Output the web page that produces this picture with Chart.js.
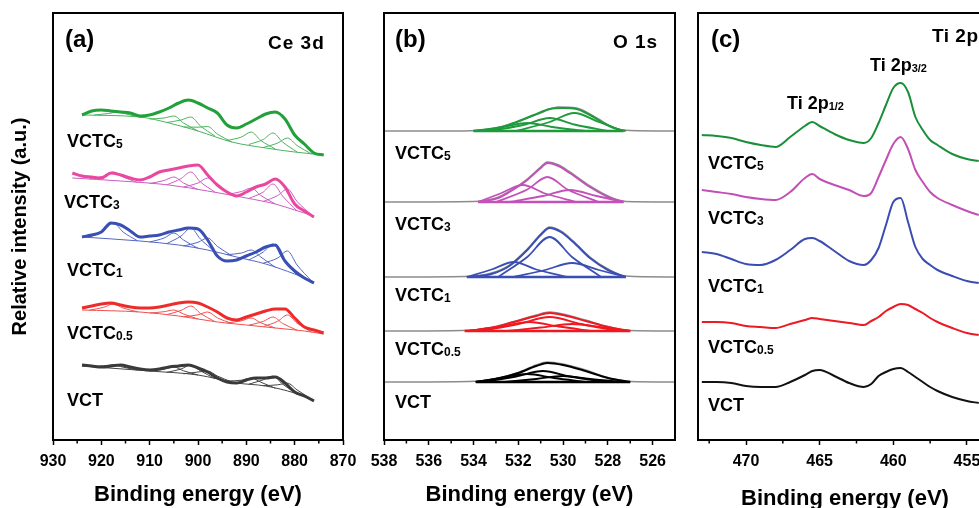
<!DOCTYPE html>
<html><head><meta charset="utf-8">
<script src="https://cdn.jsdelivr.net/npm/chart.js@4.4.1/dist/chart.umd.min.js"></script>
<style>
html,body{margin:0;padding:0;background:#fff;width:979px;height:508px;overflow:hidden;position:relative;font-family:"Liberation Sans",Arial,sans-serif;}
canvas{position:absolute;top:0;}
.lbl{position:absolute;font-weight:bold;font-size:18px;line-height:1;transform:translateY(-50%);white-space:nowrap;color:#000;}
.lbl sub{font-size:12px;vertical-align:-1px;line-height:0;}
</style></head><body>
<canvas id="ca" width="370" height="508" style="left:0px"></canvas>
<canvas id="cb" width="350" height="508" style="left:350px"></canvas>
<canvas id="cc" width="400" height="520" style="left:660px"></canvas>
<div id="labels"></div>
<script>
// ---------- tick labels ----------
const ceTicks = [930, 920, 910, 900, 890, 880, 870];
const ceMinor = [925, 915, 905, 895, 885, 875];
const oTicks = [538, 536, 534, 532, 530, 528, 526];
const oMinor = [537, 535, 533, 531, 529, 527];
const tiTicks = [470, 465, 460, 455];
const tiMinor = [472.5, 467.5, 462.5, 457.5];

const sampleBase = ['VCTC', 'VCTC', 'VCTC', 'VCTC', 'VCT'];
const sampleSub = ['5', '3', '1', '0.5', ''];

// ---------- (a) Ce 3d : binding energy grid and stacked raw spectra (offset a.u.) ----------
const ceEnergy = [926,924,922,920,918,916,914,912,910,908,906,904,902,900,898,896,894,892,890,888,886,884,882,880,878,876,874];
const ceVCTC5 = [null,325,329,330,329,328,327,324,325,328,332,337,340,337,332,327,315,312,316,321,326,328,321,305,296,287,285];
const ceVCTC3 = [267,264,263,262,267,265,262,260,263,268,270,272,274,275,265,255,248,244,248,253,256,261,253,236,229,223,null];
const ceVCTC1 = [null,203,205,208,217,215,209,203,204,205,208,210,212,211,200,184,179,180,184,188,193,195,179,169,162,157,null];
const ceVCTC05 = [null,132,134,136,137,135,133,132,132,133,135,137,138,137,133,128,122,120,123,126,129,131,131,122,113,110,107];
const ceVCT = [null,75,74,73,74,75,73,71,70,71,73,74,75,72,68,62,58,57,60,62,62,63,57,48,44,39,null];

// backgrounds [energy, intensity]
const ceVCTC5Base = [[924,325],[912,323],[906,317],[900,309],[893,298],[886,292],[880,288],[874,285]];
const ceVCTC3Base = [[926,262],[916,259],[906,255],[898,249],[890,242],[884,236],[880,230],[876,224]];
const ceVCTC1Base = [[924,203],[912,199],[904,195],[898,190],[892,183],[886,176],[880,166],[876,158]];
const ceVCTC05Base = [[924,130],[912,128],[904,124],[896,118],[890,115],[884,112],[878,109],[874,106]];
const ceVCTBase = [[924,74],[910,69],[900,65],[892,57],[886,54],[880,47],[876,40]];

// fitted components [energy, intensity]
const ceVCTC5Peaks = [
 [[921.5,325],[918.5,326.5],[916.5,328],[914.5,325.5],[911.5,322.5]],
 [[910,321],[907,322],[905,324],[903,317],[900,309]],
 [[906.5,317.5],[903.5,320],[901.5,323],[899.5,314],[896.5,304]],
 [[903,313],[900,312.8],[898,313.5],[896,306],[893,298]],
 [[894,299.5],[891,303],[889,308],[887,299.5],[884,291]],
 [[889.5,295.5],[886.5,300.5],[884.5,307],[882.5,298],[879.5,288]],
 [[886.5,292.5],[883.5,297],[881.5,302],[879.5,294.5],[876.5,286]]
];
const ceVCTC3Peaks = [
 [[922.5,261],[919.5,264],[917.5,268],[915.5,263],[912.5,257.5]],
 [[910,256.5],[907,259.5],[905,263],[903,257],[900,250.5]],
 [[906.5,255],[903.5,261.5],[901.5,268],[899.5,258],[896.5,248]],
 [[903,253],[900,257],[898,262],[896,254],[893,244.5]],
 [[894,245.5],[891,248.5],[889,252],[887,244.5],[884,236]],
 [[889.5,241.5],[886.5,248],[884.5,256],[882.5,244],[879.5,229]],
 [[886.5,238.5],[883.5,244.5],[881.5,251],[879.5,238.5],[876.5,225]]
];
const ceVCTC1Peaks = [
 [[922.5,202.7],[919.5,209.5],[917.5,217],[915.5,208],[912.5,199.2]],
 [[910,198],[907,202],[905,207],[903,200],[900,191.7]],
 [[906.5,196.3],[903.5,204],[901.5,212],[899.5,201],[896.5,188.3]],
 [[903,194],[900,197.7],[898,202],[896,193.7],[893,184.2]],
 [[894,185.3],[891,187],[889,190],[887,183],[884,172.7]],
 [[889.5,180],[886.5,188],[884.5,196],[882.5,181],[879.5,165]],
 [[886.5,176.8],[883.5,182],[881.5,189],[879.5,175],[876.5,159]]
];
const ceVCTC05Peaks = [
 [[922.5,129.8],[919.5,132.7],[917.5,136],[915.5,132],[912.5,128.1]],
 [[910,127],[907,128.3],[905,130],[903,126],[900,121]],
 [[906.5,125.3],[903.5,129.6],[901.5,134],[899.5,126.6],[896.5,118.4]],
 [[903,123.2],[900,125.2],[898,128],[896,122.2],[893,116.5]],
 [[894,117],[891,119.2],[889,122],[887,117.2],[884,112]],
 [[889.5,114.8],[886.5,118.6],[884.5,123],[882.5,116.6],[879.5,109.8]],
 [[886.5,113.3],[883.5,118.8],[881.5,125],[879.5,116.8],[876.5,108]]
];
const ceVCTPeaks = [
 [[922.5,73.5],[919.5,74.2],[917.5,75.2],[915.5,72.8],[912.5,69.9]],
 [[910,69],[907,70.8],[905,73],[903,69.2],[900,65]],
 [[906.5,67.6],[903.5,71],[901.5,75],[899.5,69.2],[896.5,61.5]],
 [[903,66.2],[900,68],[898,69],[896,64],[893,58]],
 [[894,59],[891,59.8],[889,62],[887,57.8],[884,51.7]],
 [[889.5,55.8],[886.5,60.2],[884.5,64],[882.5,55.9],[879.5,46.1]],
 [[886.5,54.3],[883.5,55.2],[881.5,56.8],[879.5,50.1],[876.5,40.7]]
];

// ---------- (b) O 1s ----------
const oVCTC5Raw = [[538,309],[534.5,309],[533,312],[532,318.5],[531,327],[530.2,333],[529.4,332],[528.5,322],[527.7,312],[527,309.5],[525,309]];
const oVCTC5Fit = [[534,309],[533,311],[532.2,317],[531.3,325],[530.6,331],[530,332],[529.4,331],[528.8,325],[528.2,317],[527.6,311],[527.2,309]];
const oVCTC5Base = [[534,309],[527.3,309]];
const oVCTC5Peaks = [
 [[534,309],[532.7,313],[531.6,317],[530.5,313],[529,309]],
 [[533.2,309],[531.7,315.5],[530.6,322],[529.5,315.5],[528,309]],
 [[532.1,309],[530.6,318],[529.5,327],[528.4,318],[527.3,309]]
];
const oVCTC3Raw = [[538,238],[534,238.5],[533,242],[532.4,248.5],[531.6,261],[531,273],[530.7,278],[530.2,275],[529.7,268],[528.8,254],[527.9,243],[527.2,238.5],[525,238]];
const oVCTC3Fit = [[533.8,238],[532.9,242],[532.4,248],[531.6,260],[531,272],[530.7,277],[530.2,274],[529.7,267],[528.8,253],[527.9,242],[527.3,238]];
const oVCTC3Base = [[533.8,238],[527.3,238]];
const oVCTC3Peaks = [
 [[533.8,238],[532.8,246.5],[531.8,255],[530.8,246.5],[529.4,238]],
 [[533,238],[531.6,250.5],[530.7,263],[529.8,250.5],[528.4,238]],
 [[532.4,238],[530.9,244],[529.7,250],[528.5,244],[527.3,238]]
];
const oVCTC1Raw = [[538,163],[534.4,163.5],[533.2,167],[532.4,175],[531.6,191],[531,206],[530.6,213],[530.1,209],[529.5,198],[528.8,183],[528,171],[527.2,164],[525,163]];
const oVCTC1Fit = [[534.2,163],[533.2,166],[532.4,174],[531.6,190],[531,205],[530.6,212],[530.1,208],[529.5,197],[528.8,182],[528,170],[527.2,163]];
const oVCTC1Base = [[534.3,163],[527.2,163]];
const oVCTC1Peaks = [
 [[534.3,163],[533.2,170.5],[532.2,178],[531.2,170.5],[529.8,163]],
 [[532.9,163],[531.6,183],[530.6,203],[529.6,183],[528.3,163]],
 [[532.2,163],[530.8,170],[529.6,177],[528.4,170],[527.2,163]]
];
const oVCTC05Raw = [[538,109],[534.5,109.5],[533.2,112.5],[532.2,118.5],[531.2,125],[530.6,128],[530,126],[529,120],[528,113.5],[527,109.5],[525,109]];
const oVCTC05Fit = [[534.3,109],[533.2,112],[532.2,118],[531.2,124],[530.6,127],[530,125],[529,119],[528,113],[527,109]];
const oVCTC05Base = [[534.4,109],[527,109]];
const oVCTC05Peaks = [
 [[534.3,109],[532.8,113.5],[531.5,118],[530.2,113.5],[528.7,109]],
 [[533.6,109],[532,116],[530.6,123],[529.2,116],[527.6,109]],
 [[532.5,109],[531,112.5],[529.6,116],[528.2,112.5],[527,109]]
];
const oVCTRaw = [[538,58],[534.2,58.5],[533,61.5],[532,67.5],[531.2,75],[530.7,78],[530,76],[529,70],[528,62.5],[527,58.5],[525,58]];
const oVCTFit = [[533.9,58],[533,61],[532,67],[531.2,74],[530.7,77],[530,75],[529,69],[528,62],[527,58]];
const oVCTBase = [[533.9,58],[527,58]];
const oVCTPeaks = [
 [[533.9,58],[532.8,62],[531.6,66],[530.4,62],[529,58]],
 [[533.5,58],[532.1,63.5],[530.9,69],[529.7,63.5],[528,58]],
 [[532.6,58],[531.2,61],[530,64],[528.8,61],[527.2,58]]
];

// ---------- (c) Ti 2p ----------
const tiEnergy = [473,472,471,470,469,468,467,466,465.5,465,464,463,462,461.5,461,460.5,460,459.5,459,458.5,458,457.5,457,456,455,454.2];
const tiVCTC5 = [305,304,302,298,295,293,303,314,318,314,306,300,297,302,317,335,352,357,348,323,310,300,295,286,281,279];
const tiVCTC3 = [250,248,246,243,241,240,248,262,266,261,255,250,244,247,263,280,296,303,291,270,258,248,242,235,229,225];
const tiVCTC1 = [188,186,181,176,175,180,190,201,202,199,189,179,175,180,192,215,238,242,218,193,181,175,170,164,159,157];
const tiVCTC05 = [118,118,117,114,113,112,116,120,122,121,119,117,115,119,123,129,133,136,135,131,127,122,118,112,107,105];
const tiVCT = [58,58,57,54,53,53,58,65,69,70,64,57,53,56,64,68,71,72,68,63,58,53,49,43,39,37];

// ---------- helpers ----------
const FONT = '"Liberation Sans", Arial, sans-serif';
Chart.defaults.font.family = FONT;
Chart.defaults.color = '#000';

function zip(xs, ys) {
  const out = [];
  xs.forEach((x, i) => { if (ys[i] !== null) out.push({x, y: ys[i]}); });
  return out;
}
function pairs(p) { return p.map(([x, y]) => ({x, y})); }
function ds(data, color, width, order) {
  return {data, borderColor: color, borderWidth: width, pointRadius: 0, fill: false,
          cubicInterpolationMode: 'monotone', order};
}

const framePlugin = {
  id: 'frame',
  afterDraw(chart, args, opts) {
    const {ctx, chartArea: a} = chart;
    const s = chart.scales.x;
    ctx.save();
    ctx.strokeStyle = '#000';
    ctx.lineWidth = 2;
    ctx.strokeRect(a.left, a.top, a.right - a.left, a.bottom - a.top);
    ctx.lineWidth = 1.5;
    ctx.beginPath();
    (opts.minor || []).forEach(v => {
      const x = s.getPixelForValue(v);
      ctx.moveTo(x, a.bottom); ctx.lineTo(x, a.bottom + 3.5);
    });
    ctx.stroke();
    ctx.restore();
  }
};

function xAxis(min, max, ticks, height, titlePad) {
  return {
    type: 'linear', min, max, reverse: true,
    afterBuildTicks: s => { s.ticks = ticks.map(v => ({value: v})); },
    afterFit: s => { s.height = height; },
    grid: {display: true, drawOnChartArea: false, drawTicks: true, tickLength: 5, tickWidth: 1.5, tickColor: '#000'},
    border: {display: false},
    ticks: {font: {size: 16, weight: 'bold'}, padding: 7, color: '#000', autoSkip: false, maxRotation: 0,
            callback: v => String(v)},
    title: {display: true, text: 'Binding energy (eV)', color: '#000',
            font: {size: 22, weight: 'bold'}, padding: {top: 0, bottom: titlePad}}
  };
}
function yAxis(show) {
  return {
    type: 'linear', min: 0, max: 427, display: show,
    ticks: {display: false}, grid: {display: false}, border: {display: false},
    afterFit: s => { s.width = show ? 53 : 0; },
    title: {display: show, text: 'Relative intensity (a.u.)', color: '#000',
            font: {size: 20, weight: 'bold'}, padding: {top: 8, bottom: 0}}
  };
}
function makeChart(id, datasets, x, y, padding, minor) {
  return new Chart(document.getElementById(id), {
    type: 'line',
    data: {datasets},
    options: {
      responsive: false, animation: false, events: [],
      layout: {padding},
      scales: {x, y},
      plugins: {legend: {display: false}, tooltip: {enabled: false}, frame: {minor}}
    },
    plugins: [framePlugin]
  });
}

// ---------- panel (a) ----------
const ceSets = [
  [ceVCTC5, ceVCTC5Base, ceVCTC5Peaks, '#22a03a', '#4bb35e'],
  [ceVCTC3, ceVCTC3Base, ceVCTC3Peaks, '#e8499f', '#cc5cc2'],
  [ceVCTC1, ceVCTC1Base, ceVCTC1Peaks, '#3a4fb4', '#5566c2'],
  [ceVCTC05, ceVCTC05Base, ceVCTC05Peaks, '#ee2b2b', '#f05050'],
  [ceVCT, ceVCTBase, ceVCTPeaks, '#3a3a3a', '#444444']
];
const aData = [];
ceSets.forEach(([raw, base, peaks, c1, c2]) => {
  aData.push(ds(zip(ceEnergy, raw), c1, 3, 0));
  aData.push(ds(pairs(base), c2, 1, 1));
  peaks.forEach(p => aData.push(ds(pairs(p), c2, 1, 1)));
});
makeChart('ca', aData, xAxis(870, 930, ceTicks, 68, 0), yAxis(true),
          {left: 0, top: 13, right: 27, bottom: 0}, ceMinor);

// ---------- panel (b) ----------
const oSets = [
  [oVCTC5Raw, oVCTC5Fit, oVCTC5Base, oVCTC5Peaks, '#1e9a3c'],
  [oVCTC3Raw, oVCTC3Fit, oVCTC3Base, oVCTC3Peaks, '#c252b8'],
  [oVCTC1Raw, oVCTC1Fit, oVCTC1Base, oVCTC1Peaks, '#3a4fb4'],
  [oVCTC05Raw, oVCTC05Fit, oVCTC05Base, oVCTC05Peaks, '#f01820'],
  [oVCTRaw, oVCTFit, oVCTBase, oVCTPeaks, '#000000']
];
const bData = [];
oSets.forEach(([raw, fit, base, peaks, c]) => {
  bData.push(ds(pairs(fit), c, 2, 0));
  bData.push(ds(pairs(base), c, 2.5, 1));
  peaks.forEach(p => bData.push(ds(pairs(p), c, 1.8, 1)));
  bData.push(ds(pairs(raw), '#8c8c8c', 1.5, 2));
});
makeChart('cb', bData, xAxis(525, 538, oTicks, 68, 0), yAxis(false),
          {left: 34, top: 13, right: 25, bottom: 0}, oMinor);

// ---------- panel (c) ----------
const tiSets = [
  [tiVCTC5, '#1a8f3a'], [tiVCTC3, '#c150b6'], [tiVCTC1, '#3b4db2'], [tiVCTC05, '#ec1a22'], [tiVCT, '#111111']
];
const cData = tiSets.map(([v, c]) => ds(zip(tiEnergy, v), c, 2, 0));
makeChart('cc', cData, xAxis(453.3, 473.26, tiTicks, 80, 8), yAxis(false),
          {left: 38, top: 13, right: 68, bottom: 0}, tiMinor);

// ---------- text annotations ----------
const L = document.getElementById('labels');
function addLabel(x, y, html, size, extra) {
  const d = document.createElement('div');
  d.className = 'lbl';
  d.style.left = x + 'px'; d.style.top = y + 'px';
  if (size) d.style.fontSize = size + 'px';
  if (extra) Object.assign(d.style, extra);
  d.innerHTML = html;
  L.appendChild(d);
}
const labelX = [67, 395, 708];
const labelY = [[141, 202, 270, 333, 400], [153, 224, 295, 349, 402], [163, 218, 286, 347, 405]];
labelY.forEach((ys, p) => ys.forEach((y, i) => {
  const x = (p === 0 && i === 1) ? 64 : labelX[p];
  addLabel(x, y, sampleBase[i] + (sampleSub[i] ? '<sub>' + sampleSub[i] + '</sub>' : ''), 18);
}));
addLabel(65, 39, '(a)', 24);
addLabel(268, 42, 'Ce 3d', 19, {letterSpacing: '1px'});
addLabel(395, 39, '(b)', 24);
addLabel(613, 41, 'O 1s', 19, {letterSpacing: '1px'});
addLabel(711, 39, '(c)', 24);
addLabel(932, 35, 'Ti 2p', 19, {letterSpacing: '0.5px'});
addLabel(870, 65, 'Ti 2p<sub style="font-size:11px">3/2</sub>', 18);
addLabel(787, 103, 'Ti 2p<sub style="font-size:11px">1/2</sub>', 18);
</script>
</body></html>
